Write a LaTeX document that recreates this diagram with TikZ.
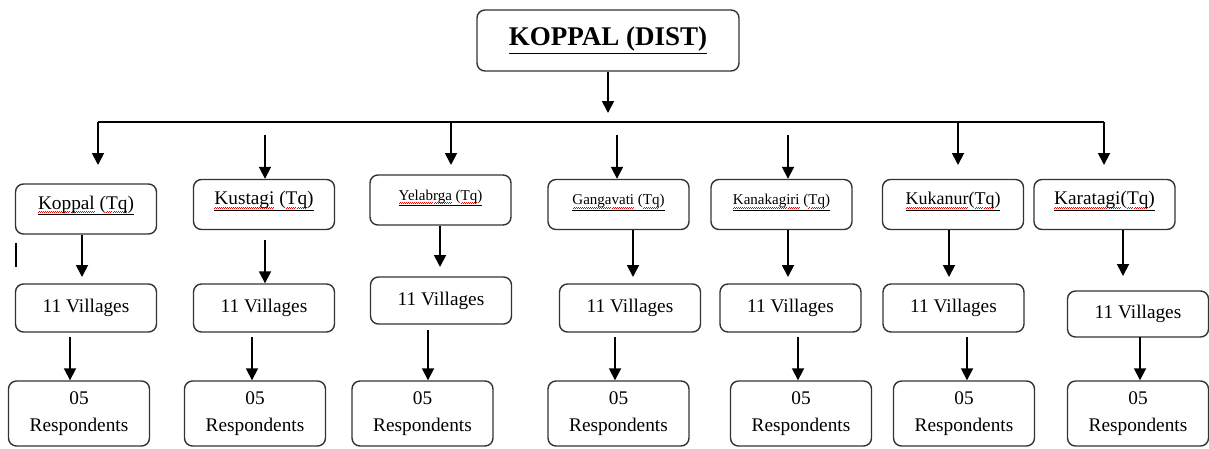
\documentclass[tikz,border=0pt]{standalone}
\usepackage{fontspec}
\setmainfont{Liberation Serif}
\usetikzlibrary{arrows.meta}

\newsavebox{\typobox}
\newcommand{\typo}[1]{\sbox{\typobox}{#1}\rlap{\color{red}\hbox to\wd\typobox{\xleaders\hbox{\rule[-4.2pt]{1pt}{0.9pt}\rule[-3.2pt]{1pt}{0.9pt}}\hfil}}\usebox{\typobox}}

\tikzset{
    box/.style={draw=black!80, line width=1.4pt, rounded corners=8pt, minimum width=141pt, inner sep=0pt, font=\fontsize{19.3}{27}\selectfont},
    distbox/.style={box, minimum width=262pt, minimum height=61pt, font=\fontsize{27}{32}\selectfont\bfseries},
    tqbox/.style={box, text height=25pt, text depth=25pt},
    small/.style={font=\fontsize{15}{18}\selectfont},
    villbox/.style={box, minimum height=48pt},
    respbox/.style={box, minimum height=65pt, align=center},
    arr/.style={line width=1.8pt, -{Triangle[width=12pt,length=12pt]}},
    bar/.style={line width=2.2pt}
}

\begin{document}
\begin{tikzpicture}[x=1pt,y=-1pt]
    \useasboundingbox (0,0) rectangle (1209,448);

    \node[distbox] (dist) at (608,40.5) {\underline{KOPPAL (DIST)}};
    \coordinate (hub) at (608,113);
    \draw[arr] (dist) -- (hub);

    \coordinate (barL) at (98,122);
    \coordinate (barR) at (1104,122);
    \draw[bar] (barL) -- (barR);

    % taluks
    \node[tqbox] (koppal) at (86,209) {\underline{\typo{Koppal} (\typo{Tq})}};
    \node[tqbox] (kustagi) at (264,204.5) {\underline{\typo{Kustagi} (\typo{Tq})}};
    \node[tqbox, small, minimum height=50pt] (yelabrga) at (440.5,200) {\underline{\typo{Yelabrga} (\typo{Tq})}};
    \node[tqbox, small] (gangavati) at (618.5,204.5) {\underline{\typo{Gangavati} (\typo{Tq})}};
    \node[tqbox, small] (kanakagiri) at (781.5,204.5) {\underline{\typo{Kanakagiri} (\typo{Tq})}};
    \node[tqbox, font=\fontsize{18}{22}\selectfont] (kukanur) at (953,204.5) {\underline{\typo{Kukanur}(\typo{Tq})}};
    \node[tqbox] (karatagi) at (1104.5,204.5) {\underline{\typo{Karatagi}(\typo{Tq})}};

    \coordinate (d1) at (98,165);
    \coordinate (d3) at (451,165);
    \coordinate (d6) at (958,165);
    \coordinate (d7) at (1104,165);
    \draw[arr] (barL) -- (d1);
    \draw[arr] (d3 |- barL) -- (d3);
    \draw[arr] (d6 |- barL) -- (d6);
    \draw[arr] (barR) -- (d7);

    \coordinate (f2) at (265,135);
    \coordinate (f4) at (617,135);
    \coordinate (f5) at (788,135);
    \draw[arr] (f2) -- (kustagi.north -| f2);
    \draw[arr] (f4) -- (gangavati.north -| f4);
    \draw[arr] (f5) -- (kanakagiri.north -| f5);

    % villages
    \node[villbox] (koppalV) at (86,308) {11 Villages};
    \node[villbox] (kustagiV) at (264,308) {11 Villages};
    \node[villbox, minimum height=47pt] (yelabrgaV) at (441,300.5) {11 Villages};
    \node[villbox] (gangavatiV) at (630,308) {11 Villages};
    \node[villbox] (kanakagiriV) at (790.5,308) {11 Villages};
    \node[villbox] (kukanurV) at (953.5,308) {11 Villages};
    \node[villbox, minimum height=46pt] (karatagiV) at (1138,314) {11 Villages};

    \coordinate (a1) at (82,277);
    \coordinate (s2) at (265,240);
    \coordinate (a3) at (440,267);
    \coordinate (a4) at (633,277);
    \coordinate (a5) at (788,277);
    \coordinate (a6) at (949,277);
    \coordinate (a7) at (1123,276);
    \draw[arr] (koppal.south -| a1) -- (a1);
    \draw[arr] (s2) -- (kustagiV.north -| s2);
    \draw[arr] (yelabrga.south -| a3) -- (a3);
    \draw[arr] (gangavati.south -| a4) -- (a4);
    \draw[arr] (kanakagiri.south -| a5) -- (a5);
    \draw[arr] (kukanur.south -| a6) -- (a6);
    \draw[arr] (karatagi.south -| a7) -- (a7);

    \coordinate (m1) at (16,243);
    \coordinate (m2) at (16,267);
    \draw[line width=1.2pt] (m1) -- (m2);

    % respondents
    \node[respbox] (koppalR) at (79,413.5) {05\\Respondents};
    \node[respbox] (kustagiR) at (255,413.5) {05\\Respondents};
    \node[respbox] (yelabrgaR) at (422.5,413.5) {05\\Respondents};
    \node[respbox] (gangavatiR) at (618.5,413.5) {05\\Respondents};
    \node[respbox] (kanakagiriR) at (801,413.5) {05\\Respondents};
    \node[respbox] (kukanurR) at (964,413.5) {05\\Respondents};
    \node[respbox] (karatagiR) at (1138,413.5) {05\\Respondents};

    \coordinate (b1) at (70,337);
    \coordinate (b2) at (252,337);
    \coordinate (b3) at (428,330);
    \coordinate (b4) at (615,337);
    \coordinate (b5) at (798,337);
    \coordinate (b6) at (967,337);
    \coordinate (b7) at (1140,337);
    \draw[arr] (b1) -- (koppalR.north -| b1);
    \draw[arr] (b2) -- (kustagiR.north -| b2);
    \draw[arr] (b3) -- (yelabrgaR.north -| b3);
    \draw[arr] (b4) -- (gangavatiR.north -| b4);
    \draw[arr] (b5) -- (kanakagiriR.north -| b5);
    \draw[arr] (b6) -- (kukanurR.north -| b6);
    \draw[arr] (b7) -- (karatagiR.north -| b7);
\end{tikzpicture}
\end{document}
